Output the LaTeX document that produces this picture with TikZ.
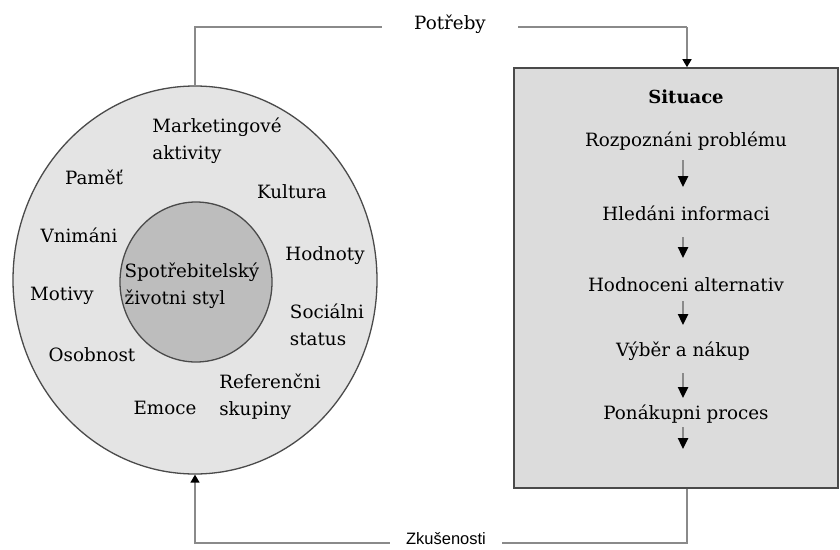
\documentclass[tikz,border=0pt]{standalone}
\usepackage{fontspec}
\setmainfont{DejaVu Serif}
\newfontfamily\labsans{Liberation Sans}
\usetikzlibrary{shapes.geometric,arrows.meta}
\definecolor{outerfill}{HTML}{E4E4E4}
\definecolor{innerfill}{HTML}{BDBDBD}
\definecolor{boxfill}{HTML}{DCDCDC}
\definecolor{edge}{HTML}{4A4A4A}
\definecolor{linegray}{HTML}{8A8A8A}
\tikzset{
  txt/.style={font=\fontsize{18.3}{27}\selectfont, inner sep=1pt, text=black},
  txtl/.style={txt, align=left},
  conn/.style={draw=linegray, line width=1.6pt},
  tipb/.style={-{Triangle[width=9pt,length=8pt,color=black]}},
  inarr/.style={draw=linegray, line width=2.4pt, -{Triangle[width=10pt,length=11pt,color=black]}},
}
\begin{document}
\begin{tikzpicture}[x=1pt,y=-1pt]
\useasboundingbox (0,0) rectangle (840,549);
% shapes
\node[ellipse, draw=edge, line width=1.3pt, fill=outerfill, minimum width=364, minimum height=388, inner sep=0] (outer) at (195,280) {};
\node[ellipse, draw=edge, line width=1.3pt, fill=innerfill, minimum width=152, minimum height=160, inner sep=0] (inner) at (196,282) {};
\node[rectangle, draw=edge, line width=1.6pt, fill=boxfill, minimum width=324, minimum height=420, inner sep=0] (box) at (676,278) {};
% circle texts
\node[txtl] (mark) at (217,141) {Marketingové\\aktivity};
\node[txt] (pam) at (94,177) {Paměť};
\node[txt] (kult) at (292,192) {Kultura};
\node[txt] (vnim) at (79,235) {Vnimáni};
\node[txt] (hodn) at (325,256) {Hodnoty};
\node[txtl] (spot) at (192,286) {Spotřebitelský\\životni styl};
\node[txt] (mot) at (62,296) {Motivy};
\node[txtl] (soc) at (327,325) {Sociálni\\status};
\node[txt] (osob) at (92,355) {Osobnost};
\node[txtl] (ref) at (270,397) {Referenčni\\skupiny};
\node[txt] (emo) at (165,408) {Emoce};
% box texts
\node[txt, font=\fontsize{18}{20}\selectfont\bfseries] (sit) at (686,97) {Situace};
\node[txt] (t1) at (686,141) {Rozpoznáni problému};
\node[txt] (t2) at (686,213) {Hledáni informaci};
\node[txt] (t3) at (686,285) {Hodnoceni alternativ};
\node[txt] (t4) at (683,351) {Výběr a nákup};
\node[txt] (t5) at (686,414) {Ponákupni proces};
\coordinate (t6) at (683,449);
\draw[inarr] ([yshift=-19pt]t1.center -| t6) -- ([yshift=26pt]t2.center -| t6);
\draw[inarr] ([yshift=-24pt]t2.center -| t6) -- ([yshift=27pt]t3.center -| t6);
\draw[inarr] ([yshift=-16pt]t3.center -| t6) -- ([yshift=26pt]t4.center -| t6);
\draw[inarr] ([yshift=-22pt]t4.center -| t6) -- ([yshift=16pt]t5.center -| t6);
\draw[inarr] ([yshift=-13pt]t5.center -| t6) -- (t6);
% feedback connectors
\coordinate (tr) at (687,27);
\coordinate (br) at (687,543);
\draw[conn] (outer.north) |- (tr);
\draw[conn, tipb] (tr) -- (tr |- box.north);
\draw[conn, tipb] (br |- box.south) -- (br) -| (outer.south);
\node[txt, fill=white, minimum width=136, inner sep=2pt] (potr) at (450,24) {Potřeby};
\node[txt, font=\labsans\fontsize{16.5}{18}\selectfont, fill=white, minimum width=112, inner sep=2pt] (zkus) at (446,539) {Zkušenosti};
\end{tikzpicture}
\end{document}
